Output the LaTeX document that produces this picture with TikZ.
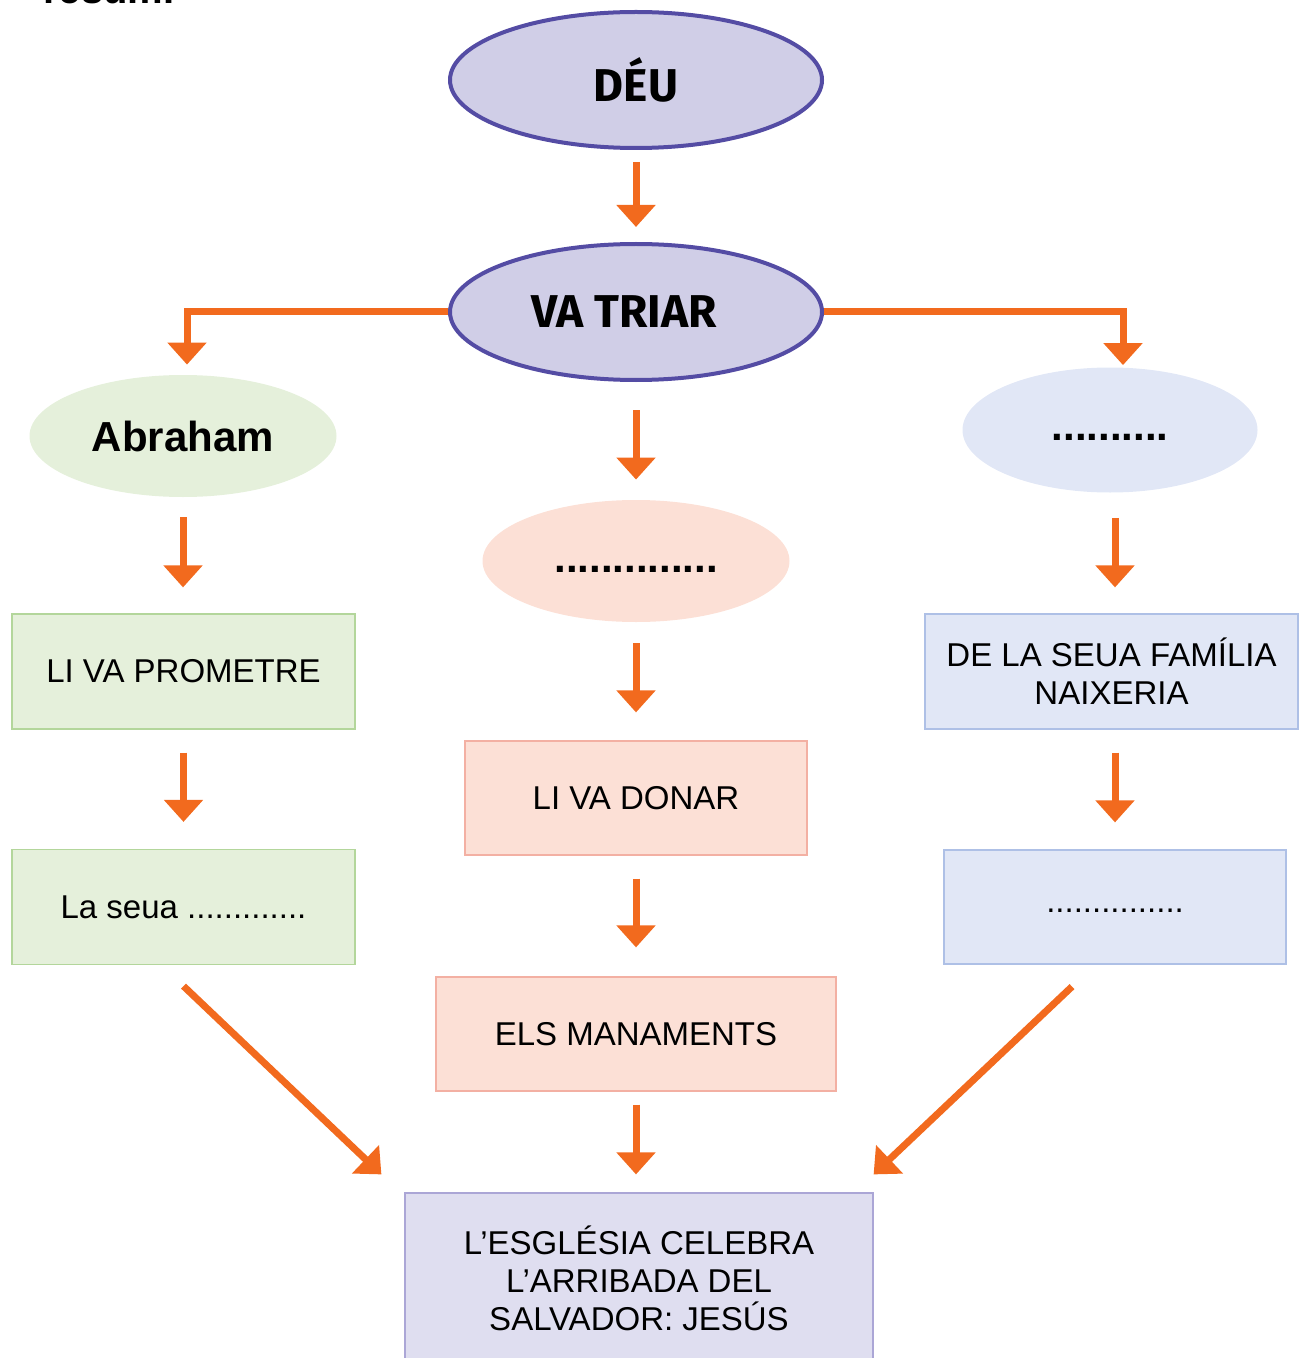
\documentclass[tikz,border=0pt]{standalone}
\usepackage{fontspec}
\setmainfont{Liberation Sans}
\newfontfamily\roundfont{Fira Sans}
\usepackage{tikz}
\usetikzlibrary{arrows.meta, positioning, shapes.geometric, calc}

\definecolor{arrorange}{HTML}{F26A1E}
\definecolor{deufill}{HTML}{D0CEE7}
\definecolor{deuline}{HTML}{544CA4}
\definecolor{greenfill}{HTML}{E5F0DB}
\definecolor{greenline}{HTML}{B3D69B}
\definecolor{pinkfill}{HTML}{FCE0D6}
\definecolor{pinkline}{HTML}{F3B0A3}
\definecolor{bluefill}{HTML}{E1E7F6}
\definecolor{blueline}{HTML}{AEC0E6}
\definecolor{lilafill}{HTML}{DFDEF0}
\definecolor{lilaline}{HTML}{ABA6D6}

\begin{document}
\begin{tikzpicture}[x=0.5pt, y=-0.5pt,
    arr/.style={line width=3.5pt, arrorange, -{Triangle[width=19pt,length=11pt]}},
    top/.style={ellipse, draw=deuline, line width=2pt, fill=deufill, minimum width=186pt, minimum height=68pt, inner sep=0pt, font=\roundfont\bfseries\fontsize{23}{28}\selectfont},
    oval/.style={ellipse, minimum width=153.5pt, minimum height=61pt, inner sep=0pt, font=\bfseries\fontsize{21}{24}\selectfont},
    box/.style={rectangle, line width=0.6pt, minimum width=171.5pt, minimum height=57.5pt, inner sep=2pt, align=center, font=\fontsize{16.5}{19}\selectfont}]
    \useasboundingbox (0,0) rectangle (1300,1358);

    % title cut off at the top
    \node[anchor=base west, inner sep=0pt, font=\bfseries\fontsize{20}{24}\selectfont] (resum) at (43,4) {resum.};

    % top of the scheme
    \node[top] (deu) at (636,80) {DÉU};
    \node[top] (triar) at (636,312) {\hspace*{-12pt}VA TRIAR};

    % three columns
    \node[oval, fill=greenfill] (abraham) at (183,436) {Abraham};
    \node[oval, fill=pinkfill] (poble) at (636,561) {\raisebox{-5.5pt}[0pt][0pt]{..............}};
    \node[oval, fill=bluefill, minimum width=147.5pt, minimum height=62.5pt] (maria) at (1110,430) {\raisebox{-5pt}[0pt][0pt]{..........}};

    \node[box, draw=greenline, fill=greenfill] (prometre) at (183.5,671.5) {LI VA PROMETRE};
    \node[box, draw=greenline, fill=greenfill] (lseua) at (183.5,907) {La seua .............};
    \node[box, draw=pinkline, fill=pinkfill, minimum width=171pt, minimum height=57pt] (donar) at (636,798) {LI VA DONAR};
    \node[box, draw=pinkline, fill=pinkfill, minimum width=200pt, minimum height=57pt] (manaments) at (636,1034) {ELS MANAMENTS};
    \node[box, draw=blueline, fill=bluefill, minimum width=186.5pt] (familia) at (1111.5,671.5) {DE LA SEUA FAMÍLIA\\NAIXERIA};
    \node[box, draw=blueline, fill=bluefill, minimum width=171pt, minimum height=57pt] (buit) at (1115,907) {\raisebox{-2.5pt}[0pt][0pt]{...............}};

    % final box
    \node[box, draw=lilaline, fill=lilafill, minimum width=234pt, minimum height=85pt] (jesus) at (639,1278) {L’ESGLÉSIA CELEBRA\\L’ARRIBADA DEL\\SALVADOR: JESÚS};

    % arrows
    \draw[arr, shorten <=6pt, shorten >=7.5pt] (deu) -- (triar);
    \draw[arr, shorten >=5pt] (triar.west) -| ([xshift=2pt]abraham.north);
    \draw[arr, shorten >=1pt] (triar.east) -| ([xshift=6.5pt]maria.north);
    \draw[arr, shorten <=14pt, shorten >=10pt] (triar) -- (poble);
    \draw[arr, shorten <=10pt, shorten >=13pt] (abraham) -- (abraham |- prometre.north);
    \draw[arr, shorten <=11.5pt, shorten >=13.5pt] (prometre) -- (lseua);
    \draw[arr, shorten <=10.5pt, shorten >=14pt] (poble) -- (donar);
    \draw[arr, shorten <=11.5pt, shorten >=14.5pt] (donar) -- (manaments);
    \draw[arr, shorten <=6.5pt, shorten >=9pt] (manaments) -- (manaments |- jesus.north);
    \draw[arr, shorten <=12.5pt, shorten >=13pt] (maria.south -| buit) -- (buit |- familia.north);
    \draw[arr, shorten <=11.5pt, shorten >=13.5pt] (buit |- familia.south) -- (buit);
    \draw[arr] ([yshift=-10.5pt]lseua.south) -- ([xshift=-11.5pt,yshift=9pt]jesus.north west);
    \draw[arr] ([xshift=-21.5pt,yshift=-11pt]buit.south) -- ([yshift=9pt]jesus.north east);
\end{tikzpicture}
\end{document}
